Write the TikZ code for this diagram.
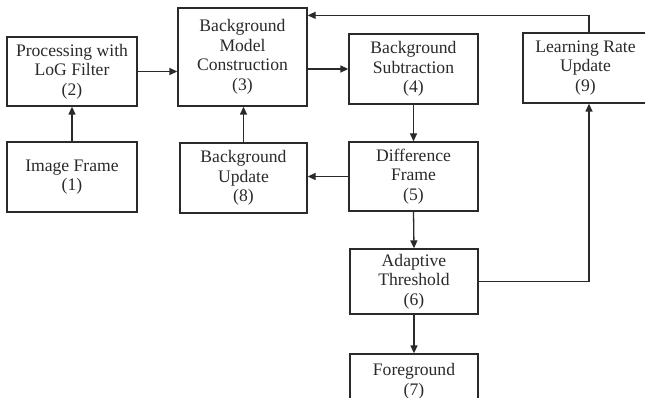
\documentclass[tikz,border=0pt]{standalone}
\usepackage{fontspec}
\setmainfont{Liberation Serif}
\usetikzlibrary{arrows.meta}
\definecolor{ink}{HTML}{2A2A2A}
\tikzset{
  box/.style={draw=ink, line width=1.3pt, fill=white, align=center, inner sep=0pt,
    text=ink, font=\fontsize{17.6}{19.5}\selectfont},
  arr/.style={draw=ink, line width=1.3pt, -{Triangle[length=8pt,width=7pt]}},
  ln/.style={draw=ink, line width=1.3pt}
}
\begin{document}
\begin{tikzpicture}[x=1pt,y=-1pt]
\useasboundingbox (0,0) rectangle (645,398);
\clip (0,0) rectangle (645,398);
\fill[white] (0,0) rectangle (645,398);
\node[box, minimum width=130pt, minimum height=70pt] (n1) at (72,177) {Image Frame\\(1)};
\node[box, minimum width=130pt, minimum height=69pt] (n2) at (72,71.5) {Processing with\\LoG Filter\\(2)};
\node[box, minimum width=129pt, minimum height=98pt] (n3) at (242.5,57) {Background\\Model\\Construction\\(3)};
\node[box, minimum width=127pt, minimum height=70pt] (n8) at (243.5,178) {Background\\Update\\(8)};
\node[box, minimum width=129pt, minimum height=70pt] (n4) at (413.5,69) {Background\\Subtraction\\(4)};
\node[box, minimum width=129pt, minimum height=69pt] (n5) at (413.5,176.5) {Difference\\Frame\\(5)};
\node[box, minimum width=128pt, minimum height=65pt] (n6) at (414,281.5) {Adaptive\\Threshold\\(6)};
\node[box, minimum width=128pt, minimum height=76pt, text depth=0pt] (n7) at (414,392) {};
\node[text=ink, font=\fontsize{17.6}{19.5}\selectfont, align=center, anchor=north] (t7) at (414,360) {Foreground\\(7)};
\node[box, minimum width=125pt, minimum height=70pt] (n9) at (585.5,68) {Learning Rate\\Update\\(9)};
\draw[arr] (n1.north) -- (n2.south);
\draw[arr] (n2.east) -- (n2.east -| n3.west);
\draw[arr] (n3.east |- n4.west) -- (n4.west);
\draw[arr] (n8.north) -- (n8.north |- n3.south);
\draw[arr] (n4.south) -- (n5.north);
\draw[arr] (n5.west) -- (n5.west -| n8.east);
\draw[arr] (n5.south) -- (n6.north);
\draw[arr] (n6.south) -- (n7.north);
\draw[arr] (n6.east) -| ([xshift=3.5pt]n9.south);
\draw[arr] ([xshift=3.5pt]n9.north) |- ([yshift=-8pt]n3.north east);
\end{tikzpicture}
\end{document}
